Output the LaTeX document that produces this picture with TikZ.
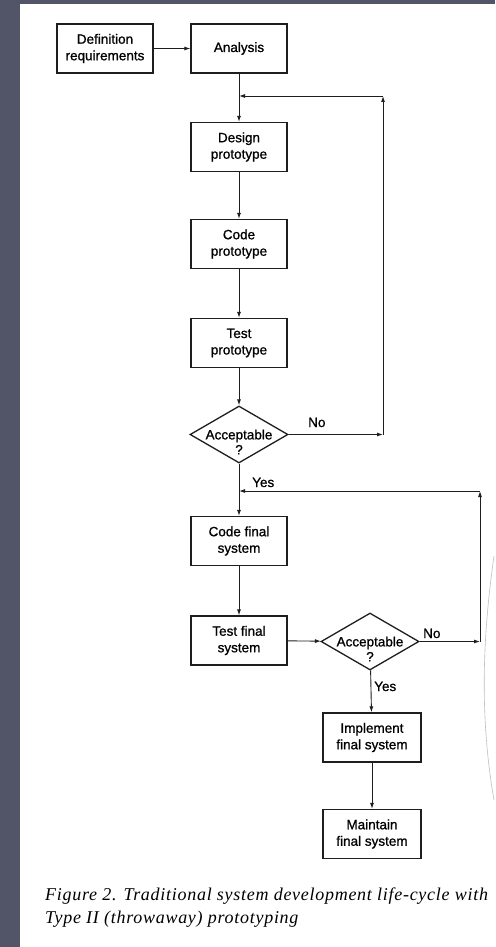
\documentclass[tikz,border=0pt]{standalone}
\usepackage{fontspec}
\setmainfont{Liberation Serif}
\setsansfont{Liberation Sans}
\newfontfamily\boxfont[FakeBold=0.9]{Liberation Sans}
\newfontfamily\capfont[LetterSpace=4]{Liberation Serif}
\usetikzlibrary{arrows.meta,shapes.geometric}
\definecolor{slidebg}{RGB}{82,84,104}
\definecolor{inkblack}{RGB}{30,30,30}

\begin{document}
\begin{tikzpicture}[x=1pt,y=-1pt,
    box/.style={draw=inkblack,line width=1.3pt,minimum width=96pt,minimum height=49pt,
      inner sep=1pt,align=center,font=\boxfont\fontsize{13.5}{16.5}\selectfont},
    choice/.style={draw=inkblack,line width=1.3pt,diamond,inner sep=0pt,aspect=1.72,
      minimum width=98pt,minimum height=57pt},
    choicetxt/.style={align=center,inner sep=0pt,font=\boxfont\fontsize{13.5}{15}\selectfont},
    flow/.style={draw=inkblack,line width=0.9pt,-{Latex[length=6pt,width=4pt]}},
    edge/.style={draw=inkblack,line width=0.9pt},
    answer/.style={font=\boxfont\fontsize{13.5}{15}\selectfont,inner sep=0pt}]
        % slide background and scanned page
        \fill[slidebg] (0,0) rectangle (495,947);
        \fill[white] (20,4) rectangle (495,947);
        \useasboundingbox (0,0) rectangle (495,947);
        \draw[black!25,line width=0.6pt] (494,556) .. controls (482,640) and (480,720) .. (494,800);
        % prototype loop
        \node[box] (defreq) at (105,48.5) {Definition\\requirements};
        \node[box] (analysis) at (239,48.5) {Analysis};
        \node[box] (design) at (239,147) {Design\\prototype};
        \node[box] (codeproto) at (239,244) {Code\\prototype};
        \node[box] (testproto) at (239,343) {Test\\prototype};
        \node[choice] (acc1) at (239,434.5) {};
        \node[choicetxt] (acc1txt) at (239,442) {Acceptable\\?};
        % final system
        \node[box] (codefinal) at (239,541) {Code final\\system};
        \node[box] (testfinal) at (239,640.5) {Test final\\system};
        \node[choice] (acc2) at (370,641.5) {};
        \node[choicetxt] (acc2txt) at (370,649) {Acceptable\\?};
        \node[box,minimum width=98pt] (implement) at (372,737.5) {Implement\\final system};
        \node[box,minimum width=98pt] (maintain) at (372,834) {Maintain\\final system};
        % answers
        \node[answer,anchor=base west] (no1) at (308,427) {No};
        \node[answer,anchor=base west] (yes1) at (252,487) {Yes};
        \node[answer,anchor=base west] (no2) at (423,638) {No};
        \node[answer,anchor=base west] (yes2) at (374,691) {Yes};
        % corners of the loops
        \coordinate (j1) at (239,96);
        \coordinate (t1) at (383,96);
        \coordinate (n1) at (383,434.5);
        \coordinate (j2) at (239,491);
        \coordinate (t2) at (480,491);
        \coordinate (n2) at (480,641.5);
        \draw[flow] (defreq) -- (analysis);
        \draw[edge] (analysis) -- (j1);
        \draw[flow] (j1) -- (design);
        \draw[flow] (design) -- (codeproto);
        \draw[flow] (codeproto) -- (testproto);
        \draw[flow] (testproto) -- (acc1);
        \draw[flow] (acc1) -- (n1);
        \draw[flow] (n1) -- (t1);
        \draw[flow] (t1) -- (j1);
        \draw[edge] (acc1) -- (j2);
        \draw[flow] (j2) -- (codefinal);
        \draw[flow] (codefinal) -- (testfinal);
        \draw[flow] (testfinal) -- (acc2);
        \draw[flow] (acc2) -- (n2);
        \draw[flow] (n2) -- (t2);
        \draw[flow] (t2) -- (j2);
        \draw[flow] (acc2) -- (implement);
        \draw[flow] (implement) -- (maintain);
        % caption
        \node[anchor=base west,align=left,inner sep=0pt,
          font=\capfont\itshape\fontsize{18}{23}\selectfont] (caption) at (45,923)
          {Figure 2. Traditional system development life-cycle with\\Type II (throwaway) prototyping};
\end{tikzpicture}
\end{document}
